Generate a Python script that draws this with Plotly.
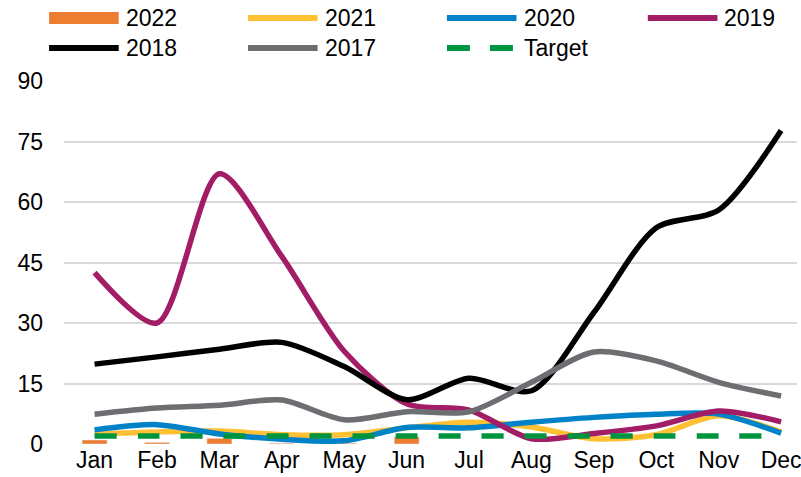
import plotly.graph_objects as go

months = ["Jan", "Feb", "Mar", "Apr", "May", "Jun",
          "Jul", "Aug", "Sep", "Oct", "Nov", "Dec"]

y2022 = [1.0, 0.4, 1.4, 0.2, 0.2, 1.8]
y2021 = [2.5, 3.0, 3.2, 2.3, 2.3, 4.0, 5.4, 4.2, 1.3, 2.3, 7.0, 3.0]
y2020 = [3.5, 4.8, 2.5, 1.2, 0.8, 4.1, 4.0, 5.4, 6.6, 7.4, 7.4, 2.7]
y2019 = [42.5, 30.0, 67.0, 46.5, 23.0, 10.0, 8.4, 1.3, 2.6, 4.5, 8.2, 5.5]
y2018 = [19.8, 21.6, 23.5, 25.2, 19.2, 11.0, 16.3, 13.2, 32.6, 53.6, 58.0, 77.7]
y2017 = [7.4, 8.9, 9.6, 10.9, 6.0, 8.0, 8.0, 15.3, 22.8, 20.6, 15.3, 11.9]
target = [2] * 12

y_ticks = [0, 15, 30, 45, 60, 75, 90]

W, H = 801, 477
M_L, M_R, M_T, M_B = 64, 0, 81, 33
PLOT_W = W - M_L - M_R
PLOT_H = H - M_T - M_B


def px_to_paper(px, py):
    return (px - M_L) / PLOT_W, (H - M_B - py) / PLOT_H


font = dict(family="Liberation Sans, Arial, sans-serif", size=23, color="#000000")

fig = go.Figure()

fig.add_trace(go.Bar(x=months[:len(y2022)], y=y2022, name="2022",
                     marker_color="#ED7D31", width=0.4))

line_series = [
    ("2021", y2021, "#FFC133", "solid"),
    ("2020", y2020, "#0082C8", "solid"),
    ("2019", y2019, "#A21C66", "solid"),
    ("2018", y2018, "#000000", "solid"),
    ("2017", y2017, "#6D6E71", "solid"),
    ("Target", target, "#00943F", "22px,21px"),
]
for name, vals, color, dash in line_series:
    fig.add_trace(go.Scatter(
        x=months, y=vals, name=name, mode="lines",
        line=dict(color=color, width=5.5, shape="spline", smoothing=0.8, dash=dash),
    ))

# Legend drawn as a two-row key above the plot
legend_items = [("2022", "#ED7D31", "bar")] + [(n, c, d) for n, _, c, d in line_series]
col_x = [49, 249, 449, 651]
row_y = [18, 48]
sym_len = 70
shapes = []
annotations = []
for i, (name, color, kind) in enumerate(legend_items):
    sx = col_x[i % 4]
    sy = row_y[i // 4]
    x0, y0 = px_to_paper(sx, sy)
    x1, _ = px_to_paper(sx + sym_len, sy)
    if kind == "bar":
        _, yt = px_to_paper(sx, sy - 6)
        _, yb = px_to_paper(sx, sy + 6)
        shapes.append(dict(type="rect", xref="paper", yref="paper",
                           x0=x0, x1=x1, y0=yb, y1=yt,
                           fillcolor=color, line=dict(width=0)))
    else:
        dash = "23px,20px" if kind != "solid" else "solid"
        shapes.append(dict(type="line", xref="paper", yref="paper",
                           x0=x0, x1=x1, y0=y0, y1=y0,
                           line=dict(color=color, width=6, dash=dash)))
    tx, _ = px_to_paper(sx + sym_len + 5, sy)
    annotations.append(dict(text=name, xref="paper", yref="paper",
                            x=tx, y=y0, xanchor="left", yanchor="middle",
                            showarrow=False, font=font))

fig.update_layout(
    width=W, height=H,
    margin=dict(l=M_L, r=M_R, t=M_T, b=M_B),
    paper_bgcolor="white", plot_bgcolor="white",
    font=font,
    barmode="overlay",
    showlegend=False,
    shapes=shapes,
    annotations=annotations,
    xaxis=dict(
        type="category", range=[-0.49, 11.255],
        showgrid=False, zeroline=False, showline=False,
        ticks="", tickfont=font,
    ),
    yaxis=dict(
        range=[0, 90], tickvals=y_ticks, ticktext=[str(v) for v in y_ticks],
        showgrid=True, gridcolor="#D9D9D9", gridwidth=1.5,
        zeroline=False, showline=False, ticks="", tickfont=font,
        ticklabelstandoff=20,
    ),
)

fig.write_html("out.html")
